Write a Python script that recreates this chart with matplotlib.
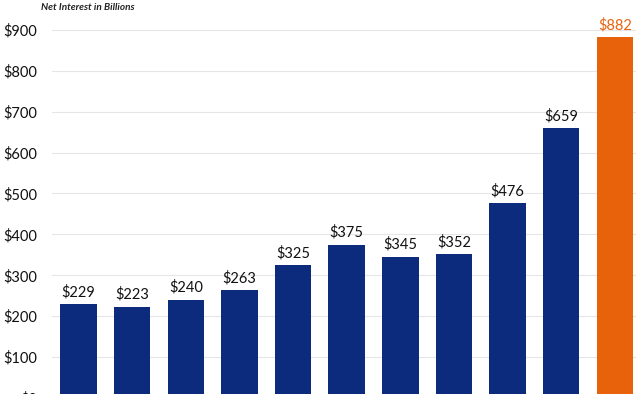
import numpy as np
import matplotlib.pyplot as plt

# --- data ---
years = ["FY2015", "FY2016", "FY2017", "FY2018", "FY2019", "FY2020",
         "FY2021", "FY2022", "FY2023", "FY2024", "FY2025"]
net_interest = [229, 223, 240, 263, 325, 375, 345, 352, 476, 659, 882]
yticks = [0, 100, 200, 300, 400, 500, 600, 700, 800, 900]

NAVY = "#0c2b7d"
ORANGE = "#e8620c"

plt.rcParams['font.family'] = ['Lato', 'DejaVu Sans']

fig = plt.figure(figsize=(6.36, 3.94), dpi=100)
ax = fig.add_axes([51.7 / 636, -4 / 394, 590 / 636, 398 / 394])

x = np.arange(len(net_interest))
colors = [NAVY] * (len(net_interest) - 1) + [ORANGE]
ax.bar(x, net_interest, width=0.68, color=colors, zorder=3)

for xi, v, c in zip(x, net_interest, colors):
    lab_color = ORANGE if c == ORANGE else "#111111"
    ax.text(xi, v + 12, f"${v}", ha="center", va="bottom",
            fontsize=10.5, color=lab_color)

ax.set_xlim(-0.5, 10.5)
ax.set_ylim(0, 973)
ax.set_yticks(yticks)
ax.set_yticklabels([f"${t}" for t in yticks], fontsize=10.5, color="#111111")
ax.set_xticks([])
ax.tick_params(axis="y", length=0, pad=10.5)
ax.grid(axis="y", color="#e6e6e6", linewidth=0.8, zorder=0)
for s in ax.spines.values():
    s.set_visible(False)

fig.text(41 / 636, 1 - 8 / 394, "Net Interest in Billions", fontsize=7.2,
         style="italic", fontweight="bold", color="#222222", va="center")

fig.savefig("out.png", dpi=100)
